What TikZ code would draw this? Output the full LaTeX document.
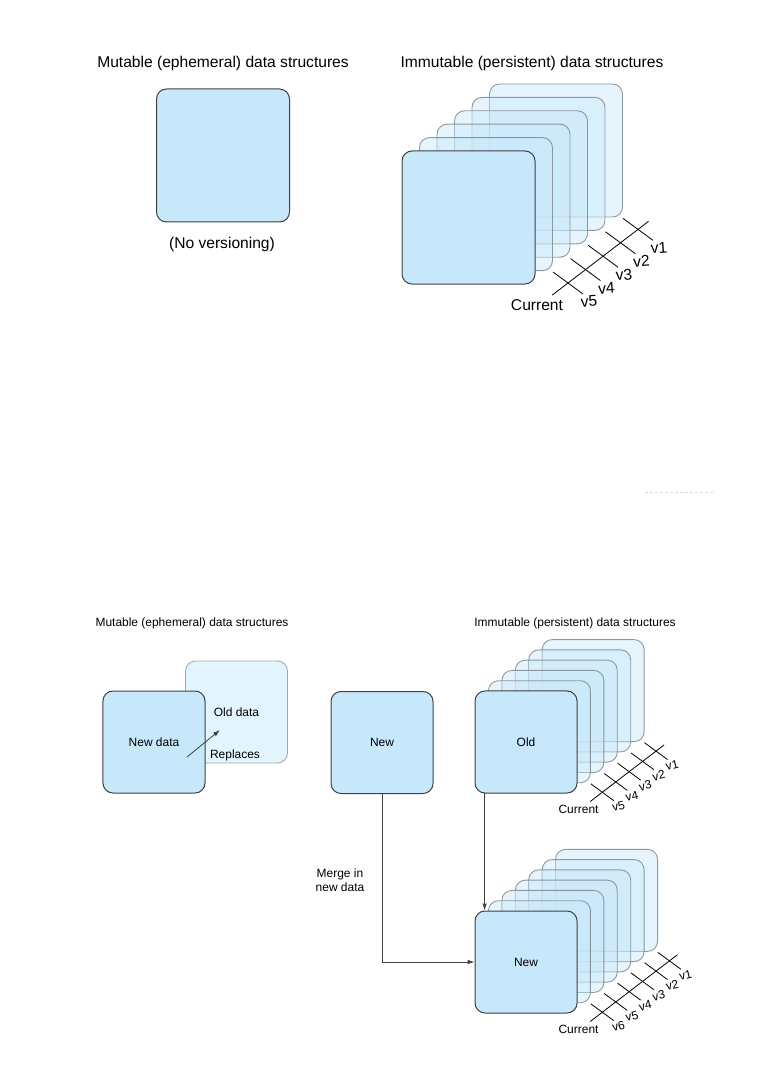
\documentclass[tikz,border=0pt]{standalone}
\usepackage{fontspec}
\setmainfont{Liberation Sans}
\usetikzlibrary{arrows.meta}
\definecolor{boxblue}{RGB}{199,232,250}
\definecolor{fadeblue}{RGB}{226,244,253}
\definecolor{edge}{RGB}{64,64,64}
\definecolor{backedge}{RGB}{132,142,148}
\tikzset{
  vbox/.style={rounded corners=10pt, minimum size=133pt, inner sep=0pt},
  front/.style={vbox, draw=edge, fill=boxblue, line width=1pt},
  back/.style={vbox, draw=backedge, fill=boxblue, fill opacity=0.45, draw opacity=0.9, line width=0.9pt},
  faded/.style={vbox, draw=gray!70, fill=fadeblue, line width=0.8pt},
  vtick/.style={black, line width=0.8pt},
  vlabel/.style={inner sep=0.5pt},
  arr/.style={draw=edge, line width=0.8pt, -{Latex[length=7pt,width=4.5pt]}},
  small/.style={scale=0.767}
}
\newcommand\versions[6][0]{%
  \begin{scope}[shift={#3}, scale=#4, transform shape]
    \foreach \i in {#5,...,1}
      \node[back] at ({66.5+17.5*\i},{-66.5-13.4*\i}) {};
    \node[front] (#2) at (66.5,-66.5) {#6};
    \foreach \i in {1,...,#5}{
      \pgfmathtruncatemacro\ver{#5+1-\i}
      \pgfmathsetmacro\cx{166+17.5*(\i-1)}
      \pgfmathsetmacro\cy{-1-13.4*(\i-1)}
      \draw[vtick] ({\cx-15},{\cy-11}) -- ({\cx+15},{\cy+11});
      \node[vlabel, rotate=#1] at ({\cx+21},{\cy+18.5}) {v\ver};
    }
    \draw[vtick] ({166-0.9*17.5},{-1+0.9*13.4}) -- ({166+(#5-0.4)*17.5},{-1-(#5-0.4)*13.4});
    \node at (135,21) {Current};
  \end{scope}}

\begin{document}
\begin{tikzpicture}[x=1pt, y=-1pt, font=\fontsize{15.6pt}{18pt}\selectfont]
\useasboundingbox (0,0) rectangle (761,1075);

\node (mtitle) at (223,63) {Mutable (ephemeral) data structures};
\node[front] (mbox) at (223,155.5) {};
\node (nover) at (222,244) {(No versioning)};

\node (ititle) at (532,63) {Immutable (persistent) data structures};
\versions[4]{cur}{(402,284)}{1}{5}{}

\coordinate (dsa) at (645,492);
\coordinate (dsb) at (715,492);
\draw[gray!30, dash pattern=on 3pt off 2pt] (dsa) -- (dsb);

\node[small] (mtitleb) at (192,623) {Mutable (ephemeral) data structures};
\node[small] (ititleb) at (575,623) {Immutable (persistent) data structures};

\node[faded, small] (olddata) at (236.5,712) {Old data};
\node[small] (repl) at (235,755) {Replaces};
\node[front, small] (newdata) at (154,742) {New data};
\coordinate (rfrom) at (187,757);
\coordinate (rto) at (220,730);
\draw[arr] (rfrom) -- (rto);

\node[front, small] (newin) at (382,742.5) {New};
\node[small, align=center] (merge) at (340,880) {Merge in\\new data};

\versions[14]{old}{(475,793)}{0.767}{5}{Old}
\versions[14]{new}{(475,1013)}{0.767}{6}{New}

\draw[arr] (newin.south) |- (new.west);
\draw[arr] ([xshift=10pt]old.south west) -- ([xshift=10pt]new.north west);
\end{tikzpicture}
\end{document}
